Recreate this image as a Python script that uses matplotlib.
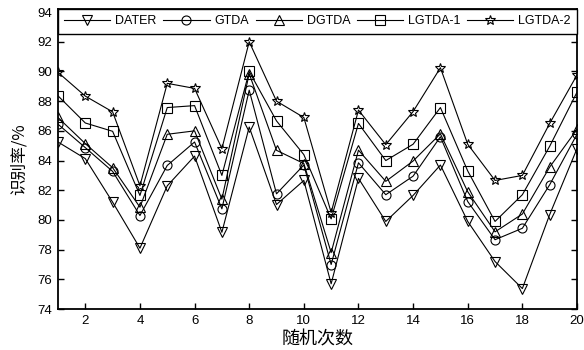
import matplotlib
matplotlib.use("Agg")
import matplotlib.pyplot as plt

runs = list(range(1, 21))

dater = [85.25, 84.13, 81.2, 78.1, 82.3, 84.3, 79.17, 86.26, 81.04, 82.66,
         75.7, 82.8, 79.9, 81.65, 83.7, 79.9, 77.2, 75.38, 80.36, 84.8]
gtda = [86.45, 84.87, 83.27, 80.3, 83.67, 85.25, 80.75, 88.74, 81.76, 83.7,
        77.0, 83.85, 81.7, 82.95, 85.6, 81.24, 78.67, 79.44, 82.37, 85.77]
dgtda = [86.9, 85.14, 83.52, 80.86, 85.77, 86.0, 81.4, 89.85, 84.69, 83.8,
         77.8, 84.7, 82.6, 83.97, 85.8, 81.9, 79.2, 80.4, 83.56, 86.1]
lgtda1 = [88.36, 86.53, 85.97, 81.65, 87.57, 87.7, 83.0, 90.0, 86.67, 84.4,
          80.07, 86.5, 84.0, 85.1, 87.57, 83.3, 79.9, 81.7, 84.96, 88.6]
lgtda2 = [89.94, 88.34, 87.28, 82.3, 89.2, 88.86, 84.8, 92.0, 88.0, 86.9,
          80.5, 87.4, 85.07, 87.3, 90.25, 85.1, 82.66, 83.0, 86.5, 89.76]

names = ["DATER", "GTDA", "DGTDA", "LGTDA-1", "LGTDA-2"]
xticks = [2, 4, 6, 8, 10, 12, 14, 16, 18, 20]
yticks = [74, 76, 78, 80, 82, 84, 86, 88, 90, 92, 94]

plt.rcParams['font.family'] = ['Liberation Sans', 'DejaVu Sans']

fig = plt.figure(figsize=(5.84, 3.5), dpi=100)
ax = fig.add_axes([0.0993, 0.117, 0.8887, 0.857])

series = [dater, gtda, dgtda, lgtda1, lgtda2]
markers = ['v', 'o', '^', 's', '*']
sizes = [7.5, 6.5, 7.5, 7, 7]
for vals, m, ms, name in zip(series, markers, sizes, names):
    ax.plot(runs, vals, color='black', lw=0.8, marker=m, ms=ms,
            mfc='none', mec='black', mew=0.8, label=name)

ax.set_xlim(1, 20)
ax.set_ylim(74, 94.2)
ax.set_xticks(xticks)
ax.set_yticks(yticks)
ax.tick_params(direction='in', length=4, width=1, labelsize=9.5,
               right=True, top=False, pad=4)
for s in ax.spines.values():
    s.set_linewidth(1.3)

leg = ax.legend(loc='upper left', bbox_to_anchor=(0, 0, 1, 1), mode='expand',
                ncol=5, borderaxespad=0, fancybox=False, edgecolor='black',
                framealpha=1, fontsize=9, handlelength=3.7,
                handletextpad=0.4, borderpad=0.5)
leg.get_frame().set_linewidth(1.0)

ax.set_xlabel("随机次数", family=['Noto Sans CJK SC', 'DejaVu Sans'],
              fontsize=13, labelpad=3)
ax.set_ylabel("识别率/%", family=['Noto Sans CJK SC', 'DejaVu Sans'],
              fontsize=12, labelpad=7)

fig.savefig("out.png", dpi=100)
